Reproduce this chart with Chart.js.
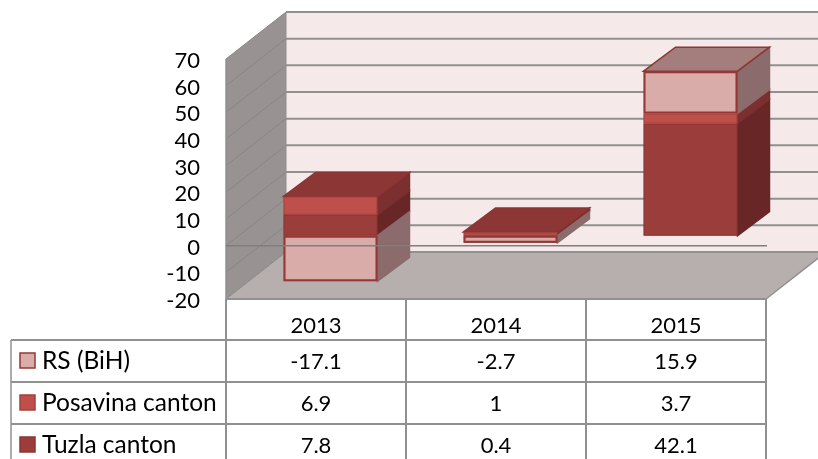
<!DOCTYPE html>
<html>
<head>
<meta charset="utf-8">
<style>
  html, body { margin: 0; padding: 0; background: #fff; }
  canvas { display: block; }
</style>
</head>
<body>
<canvas id="chart" width="818" height="459"></canvas>
<script src="https://cdn.jsdelivr.net/npm/chart.js@4"></script>
<script>
// 3D stacked columns with a data table underneath.

const YEARS = ["2013", "2014", "2015"];
const RS_BIH = [-17.1, -2.7, 15.9];
const POSAVINA = [6.9, 1, 3.7];
const TUZLA = [7.8, 0.4, 42.1];

const FONT = "Lato, 'Open Sans', sans-serif";
const GRID = "#909090";

// offsets of the fake 3D box, in pixels
const WALL_DX = 60, WALL_DY = -47;
const BAR_DX = 14.5, BAR_DY = -10;
const DEPTH_DX = 32, DEPTH_DY = -24;

const COLORS = {
  rs: { front: "#d9abA9", border: "#953735", side: "#8b6b6b", top: "#a47e7c" },
  posavina: { front: "#bf4f4b", border: "#a5403c", side: "#7b2f2e", top: "#8c3736" },
  tuzla: { front: "#9a3d3b", border: "#8c3533", side: "#682626", top: "#7a2d2c" },
};

const ROWS = [
  { label: "RS (BiH)", values: RS_BIH, color: COLORS.rs, y: 361 },
  { label: "Posavina canton", values: POSAVINA, color: COLORS.posavina, y: 403 },
  { label: "Tuzla canton", values: TUZLA, color: COLORS.tuzla, y: 445 },
];

function poly(ctx, pts, fill, stroke) {
  ctx.beginPath();
  pts.forEach((p, i) => (i ? ctx.lineTo(p[0], p[1]) : ctx.moveTo(p[0], p[1])));
  ctx.closePath();
  if (fill) { ctx.fillStyle = fill; ctx.fill(); }
  if (stroke) { ctx.strokeStyle = stroke; ctx.lineWidth = 1.5; ctx.stroke(); }
}

function seg(ctx, x1, y1, x2, y2, width, color) {
  ctx.beginPath();
  ctx.moveTo(x1, y1);
  ctx.lineTo(x2, y2);
  ctx.lineWidth = width;
  ctx.strokeStyle = color;
  ctx.stroke();
}

const walls = {
  id: "walls",
  beforeDraw(chart) {
    const { ctx, chartArea: a, scales: { y } } = chart;
    const w = 818;
    ctx.save();
    ctx.fillStyle = "#fff";
    ctx.fillRect(0, 0, w, 459);
    // back wall, side wall, floor
    poly(ctx, [[a.left + WALL_DX, a.top + WALL_DY], [w, a.top + WALL_DY], [w, a.bottom + WALL_DY], [a.left + WALL_DX, a.bottom + WALL_DY]], "#f5e9e9");
    poly(ctx, [[a.left, a.top], [a.left + WALL_DX, a.top + WALL_DY], [a.left + WALL_DX, a.bottom + WALL_DY], [a.left, a.bottom]], "#989392");
    poly(ctx, [[a.left, a.bottom], [a.right, a.bottom], [a.right + WALL_DX, a.bottom + WALL_DY], [a.left + WALL_DX, a.bottom + WALL_DY]], "#b7aeae");
    y.ticks.forEach((t) => {
      const py = y.getPixelForValue(t.value);
      seg(ctx, a.left, py, a.left + WALL_DX, py + WALL_DY, 1, "#868686");
      seg(ctx, a.left + WALL_DX, py + WALL_DY, w, py + WALL_DY, 2, GRID);
    });
    seg(ctx, a.left, a.top, a.left, a.bottom, 1.5, GRID);
    seg(ctx, a.left + WALL_DX, a.top + WALL_DY, a.left + WALL_DX, a.bottom + WALL_DY, 1, GRID);
    seg(ctx, a.right, a.bottom, a.right + WALL_DX, a.bottom + WALL_DY, 1.5, GRID);
    ctx.restore();
  },
  beforeDatasetsDraw(chart) {
    const { ctx } = chart;
    ctx.save();
    ctx.translate(BAR_DX, BAR_DY);
    // side and top faces, the front faces are the chart's own bars
    YEARS.forEach((_, i) => {
      let topEl = null, topColor = null;
      chart.data.datasets.forEach((ds, d) => {
        const el = chart.getDatasetMeta(d).data[i];
        const left = el.x - el.width / 2, right = el.x + el.width / 2;
        const hi = Math.min(el.y, el.base), lo = Math.max(el.y, el.base);
        poly(ctx, [[right, hi], [right + DEPTH_DX, hi + DEPTH_DY], [right + DEPTH_DX, lo + DEPTH_DY], [right, lo]], ds.sideColor, ds.sideColor);
        // underlay so the bar's antialiased edges do not let the wall through
        ctx.fillStyle = ds.borderColor;
        ctx.fillRect(left, hi, right - left, lo - hi);
        if (!topEl || hi < Math.min(topEl.y, topEl.base)) { topEl = el; topColor = ds.topColor; }
      });
      const left = topEl.x - topEl.width / 2, right = topEl.x + topEl.width / 2;
      const t = Math.min(topEl.y, topEl.base);
      poly(ctx, [[left, t], [left + DEPTH_DX, t + DEPTH_DY], [right + DEPTH_DX, t + DEPTH_DY], [right, t]], topColor, "#8c3533");
    });
  },
  afterDatasetsDraw(chart) {
    chart.ctx.restore();
  },
  afterDraw(chart) {
    const { ctx, chartArea: a, scales: { x, y } } = chart;
    const tableLeft = 11, headerY = 340, rowLines = [340, 382, 424];
    ctx.save();
    // zero line runs in front of the bars
    const zero = y.getPixelForValue(0);
    seg(ctx, a.left, zero, a.right + 1, zero, 1.5, "#7f7f7f");
    // data table grid
    [0, 1, 2, 3].forEach((i) => {
      const px = a.left + (i * (a.right - a.left)) / 3;
      seg(ctx, px, a.bottom, px, 459, 2, GRID);
    });
    rowLines.forEach((py) => seg(ctx, tableLeft, py, a.right, py, 1.8, GRID));
    seg(ctx, tableLeft, headerY, tableLeft, 459, 1.5, GRID);
    seg(ctx, a.left, a.bottom, a.right, a.bottom, 2, GRID);
    // rows
    ctx.textBaseline = "middle";
    ROWS.forEach((r) => {
      ctx.fillStyle = r.color.front;
      ctx.strokeStyle = r.color.border;
      ctx.lineWidth = 1.5;
      ctx.fillRect(20, r.y - 8, 15, 15);
      ctx.strokeRect(20, r.y - 8, 15, 15);
      ctx.fillStyle = "#000";
      ctx.textAlign = "left";
      ctx.font = "24.5px " + FONT;
      ctx.fillText(r.label, 42, r.y);
      ctx.textAlign = "center";
      ctx.font = "22px " + FONT;
      r.values.forEach((v, i) => ctx.fillText(String(v), x.getPixelForTick(i), r.y + 1));
    });
    ctx.restore();
  },
};

new Chart(document.getElementById("chart"), {
  type: "bar",
  data: {
    labels: YEARS,
    datasets: [
      { label: "Tuzla canton", data: TUZLA, backgroundColor: COLORS.tuzla.front, borderColor: COLORS.tuzla.border, borderWidth: 1, sideColor: COLORS.tuzla.side, topColor: COLORS.tuzla.top },
      { label: "Posavina canton", data: POSAVINA, backgroundColor: COLORS.posavina.front, borderColor: COLORS.posavina.border, borderWidth: 1, sideColor: COLORS.posavina.side, topColor: COLORS.posavina.top },
      { label: "RS (BiH)", data: RS_BIH, backgroundColor: COLORS.rs.front, borderColor: COLORS.rs.border, borderWidth: 2, sideColor: COLORS.rs.side, topColor: COLORS.rs.top },
    ],
  },
  options: {
    responsive: false,
    animation: false,
    layout: { padding: { top: 59, right: 52, left: 0, bottom: 0 } },
    datasets: { bar: { categoryPercentage: 1, barPercentage: 0.522, borderSkipped: false } },
    scales: {
      x: {
        stacked: true,
        grid: { display: false },
        border: { display: false },
        ticks: { color: "#000", font: { family: FONT, size: 22 }, padding: 6, maxRotation: 0 },
        afterFit: (s) => { s.height = 160; },
      },
      y: {
        stacked: true,
        min: -20,
        max: 70,
        grid: { display: false },
        border: { display: false },
        ticks: { stepSize: 10, autoSkip: false, color: "#000", font: { family: FONT, size: 22 }, padding: 18, labelOffset: 2 },
        afterFit: (s) => { s.width = 226; },
      },
    },
    plugins: { legend: { display: false }, tooltip: { enabled: false } },
  },
  plugins: [walls],
});
</script>
</body>
</html>
